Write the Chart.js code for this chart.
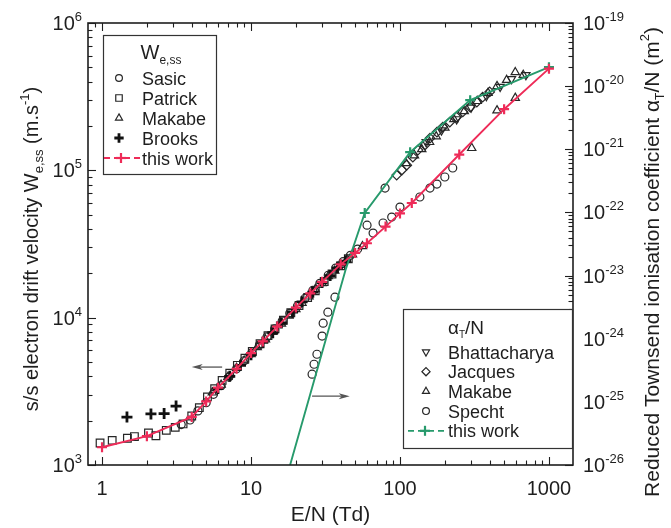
<!DOCTYPE html>
<html>
<head>
<meta charset="utf-8">
<script src="https://cdn.jsdelivr.net/npm/chart.js@4.4.1/dist/chart.umd.min.js"></script>
<style>
  html, body { margin: 0; background: #fff; }
</style>
</head>
<body>
<canvas id="c" width="671" height="528"></canvas>
<script>
// E/N in Td; drift velocity W in m/s (left axis); alpha/N in m^2 (right axis)
const redEN = [1, 2, 4, 5, 6, 8, 10, 12, 15, 20, 25, 30, 40, 50, 60, 80, 100, 120, 250, 500, 1000];
const redW = [1320, 1570, 2120, 2700, 3350, 4500, 5750, 6900, 8700, 11700, 14600, 17500, 23000, 27500, 32000, 41500, 51000, 60000, 128000, 260000, 490000];

const greenEN = [18.3, 43, 58, 117, 296, 1000];
const greenA = [1.0e-26, 1.2e-23, 9.8e-23, 9.0e-22, 6.0e-21, 2.0e-20];

const sasicEN = [3.4, 3.9, 4.4, 5.0, 5.6, 6.3, 7.1, 8.0, 9.0, 10.1, 11.4, 12.8, 14.4, 16.2, 18.2, 20.5, 23, 26, 29, 33, 37, 41.5, 46.5, 52, 66, 77, 88, 100, 136, 159, 177, 200, 226];
const sasicW = [1880, 2020, 2330, 2650, 3020, 3450, 3950, 4500, 5100, 5750, 6550, 7400, 8400, 9500, 10700, 12000, 13500, 15300, 17100, 19400, 21700, 24000, 26500, 29200, 37500, 43900, 48200, 56300, 65900, 75800, 80700, 90100, 103700];

const patEN = [0.97, 1.17, 1.48, 1.65, 2.05, 2.3, 2.7, 3.1, 3.5, 4.0, 4.5, 5.1, 5.7, 6.4, 7.2, 8.1, 9.1, 10.2, 11.5, 13, 14.5, 16.5, 18.5, 21, 24, 27, 31, 35, 40, 45];
const patW = [1410, 1470, 1520, 1560, 1650, 1580, 1720, 1800, 1900, 2150, 2450, 2900, 3300, 3750, 4200, 4750, 5300, 5900, 6650, 7550, 8400, 9600, 10800, 12100, 13700, 15200, 17600, 19800, 22500, 25100];

const makWEN = [5.5, 6.3, 7, 8, 9, 10, 11, 12.5, 14, 16, 18, 20, 22, 24.5, 27, 30, 33, 36.5, 40, 44, 48, 56, 303, 448, 594];
const makW = [3100, 3500, 3950, 4550, 5100, 5650, 6300, 7100, 8000, 9100, 10300, 11400, 12600, 13900, 15600, 17100, 19100, 20800, 22800, 24800, 26800, 30500, 141600, 255000, 310000];

const brooksEN = [1.47, 2.13, 2.61, 3.14, 6, 7.2, 8.5, 10, 12, 14, 16, 19, 22, 26, 30, 34, 38, 43];
const brooksW = [2115, 2220, 2235, 2510, 3300, 4000, 4750, 5600, 6800, 7900, 9200, 10900, 12800, 14900, 17300, 19300, 21800, 24200];

const specEN = [25.7, 26.5, 27.7, 30.0, 30.5, 32.8, 36.6, 60.1, 79.4];
const specA = [2.74e-25, 3.94e-25, 5.68e-25, 1.10e-24, 1.76e-24, 2.63e-24, 4.55e-24, 6.29e-23, 2.43e-22];

const jacEN = [95, 103, 111, 122, 132, 147, 159, 177, 194, 216, 240, 264, 296, 328, 359, 400];
const jacA = [3.9e-22, 4.7e-22, 5.6e-22, 7.5e-22, 9.7e-22, 1.17e-21, 1.5e-21, 1.87e-21, 2.25e-21, 2.7e-21, 3.24e-21, 3.9e-21, 4.67e-21, 5.6e-21, 6.7e-21, 8.1e-21];

const bhaEN = [150, 190, 240, 300, 380, 470, 560, 700];
const bhaA = [1.3e-21, 2.0e-21, 3.0e-21, 4.6e-21, 7.0e-21, 9.8e-21, 1.3e-20, 1.5e-20];

const makAEN = [110, 125, 140, 158, 175, 200, 230, 270, 330, 390, 448, 520, 594, 672];
const makA = [6.0e-22, 8.0e-22, 1.0e-21, 1.3e-21, 1.6e-21, 2.2e-21, 3.0e-21, 4.0e-21, 5.8e-21, 7.8e-21, 1.0e-20, 1.25e-20, 1.66e-20, 1.5e-20];

const xTickLabels = ['1', '10', '100', '1000'];
const legendW = ['Sasic', 'Patrick', 'Makabe', 'Brooks', 'this work'];
const legendA = ['Bhattacharya', 'Jacques', 'Makabe', 'Specht', 'this work'];

const RED = '#ee2b58';
const GREEN = '#279a6c';
const MARK = '#262626';
const INK = '#1e1e1e';
const FONT = "'Liberation Sans', Arial, sans-serif";
const font = sz => sz + 'px ' + FONT;

const pts = (xs, ys) => xs.map((x, i) => ({ x, y: ys[i] }));

const styles = {
  sasic: { pointStyle: 'circle', radius: 4, borderWidth: 1.2, color: MARK },
  patrick: { pointStyle: 'rect', radius: 5.4, borderWidth: 1.2, color: MARK },
  makabe: { pointStyle: 'triangle', radius: 4.8, borderWidth: 1.2, color: MARK },
  brooks: { pointStyle: 'cross', radius: 5.5, borderWidth: 2.8, color: '#111' },
  bha: { pointStyle: 'triangle', radius: 4.8, rotation: 180, borderWidth: 1.2, color: MARK },
  jac: { pointStyle: 'rectRot', radius: 4.8, borderWidth: 1.2, color: MARK },
};

const markerSet = (label, xs, ys, axis, st) => ({
  label,
  data: pts(xs, ys),
  yAxisID: axis,
  showLine: false,
  pointStyle: st.pointStyle,
  pointRadius: st.radius,
  pointRotation: st.rotation || 0,
  pointBackgroundColor: 'rgba(0,0,0,0)',
  pointBorderColor: st.color,
  pointBorderWidth: st.borderWidth,
});

const datasets = [
  {
    label: 'this work W', data: pts(redEN, redW), yAxisID: 'y', showLine: true,
    borderColor: RED, borderWidth: 1.9, pointStyle: 'cross', pointRadius: 5,
    pointBorderColor: RED, pointBorderWidth: 2.2, pointBackgroundColor: RED,
  },
  {
    label: 'this work alpha', data: pts(greenEN, greenA), yAxisID: 'y2', showLine: true,
    borderColor: GREEN, borderWidth: 1.9, pointStyle: 'cross', pointRadius: [0, 0, 5, 5, 5, 5],
    pointBorderColor: GREEN, pointBorderWidth: 2.2, pointBackgroundColor: GREEN,
  },
  markerSet('Brooks', brooksEN, brooksW, 'y', styles.brooks),
  markerSet('Sasic', sasicEN, sasicW, 'y', styles.sasic),
  markerSet('Patrick', patEN, patW, 'y', styles.patrick),
  markerSet('Makabe W', makWEN, makW, 'y', styles.makabe),
  markerSet('Specht', specEN, specA, 'y2', styles.sasic),
  markerSet('Jacques', jacEN, jacA, 'y2', styles.jac),
  markerSet('Bhattacharya', bhaEN, bhaA, 'y2', styles.bha),
  markerSet('Makabe alpha', makAEN, makA, 'y2', styles.makabe),
];

// draws a run of text pieces with their own size and vertical shift (sub/superscripts)
function rich(ctx, segs, x, y, align) {
  let w = 0;
  for (const s of segs) { ctx.font = font(s.size); s.w = ctx.measureText(s.t).width; w += s.w; }
  let cx = align === 'right' ? x - w : align === 'center' ? x - w / 2 : x;
  ctx.textAlign = 'left';
  ctx.textBaseline = 'alphabetic';
  for (const s of segs) {
    ctx.font = font(s.size);
    ctx.fillText(s.t, cx, y + (s.dy || 0));
    cx += s.w;
  }
}

function logTicks(min, max) {
  const out = [];
  for (let e = Math.floor(Math.log10(min)); e <= Math.ceil(Math.log10(max)); e++) {
    for (let m = 1; m < 10; m++) {
      const v = m * Math.pow(10, e);
      if (v >= min * 0.999 && v <= max * 1.001) out.push({ v, e, major: m === 1 });
    }
  }
  return out;
}

function line(ctx, x1, y1, x2, y2) {
  ctx.beginPath();
  ctx.moveTo(x1, y1);
  ctx.lineTo(x2, y2);
  ctx.stroke();
}

function arrow(ctx, x1, x2, y) {
  const dir = Math.sign(x2 - x1);
  ctx.strokeStyle = '#555';
  ctx.fillStyle = '#555';
  ctx.lineWidth = 1.3;
  line(ctx, x1, y, x2 - dir * 4, y);
  ctx.beginPath();
  ctx.moveTo(x2, y);
  ctx.lineTo(x2 - dir * 11, y - 3);
  ctx.lineTo(x2 - dir * 8, y);
  ctx.lineTo(x2 - dir * 11, y + 3);
  ctx.closePath();
  ctx.fill();
}

function legendMarker(ctx, st, x, y) {
  ctx.save();
  ctx.strokeStyle = st.color;
  ctx.fillStyle = 'rgba(0,0,0,0)';
  ctx.lineWidth = st.borderWidth;
  Chart.helpers.drawPoint(ctx, { pointStyle: st.pointStyle, radius: st.radius * 0.85, rotation: st.rotation || 0, borderWidth: st.borderWidth }, x, y);
  ctx.restore();
}

function legendLine(ctx, color, x, y) {
  ctx.save();
  ctx.strokeStyle = color;
  ctx.lineWidth = 1.8;
  ctx.setLineDash([6, 4]);
  line(ctx, x - 17, y, x + 20, y);
  ctx.setLineDash([]);
  ctx.lineWidth = 2.2;
  line(ctx, x - 5, y, x + 5, y);
  line(ctx, x, y - 5, x, y + 5);
  ctx.restore();
}

const deco = {
  id: 'deco',
  afterDatasetsDraw(chart) {
    const ctx = chart.ctx, sx = chart.scales.x, sy = chart.scales.y, sy2 = chart.scales.y2;
    ctx.save();
    arrow(ctx, sx.getPixelForValue(6.4), sx.getPixelForValue(4.0), sy.getPixelForValue(4620));
    arrow(ctx, sx.getPixelForValue(25.7), sx.getPixelForValue(46), sy2.getPixelForValue(1.23e-25));
    ctx.restore();
  },
  afterDraw(chart) {
    const ctx = chart.ctx, a = chart.chartArea;
    const sx = chart.scales.x, sy = chart.scales.y, sy2 = chart.scales.y2;
    ctx.save();
    ctx.strokeStyle = INK;
    ctx.fillStyle = INK;

    // inward ticks on all four sides
    ctx.lineWidth = 1.1;
    for (const t of logTicks(sx.min, sx.max)) {
      const px = Math.round(sx.getPixelForValue(t.v)) + 0.5, len = t.major ? 8 : 4.5;
      line(ctx, px, a.bottom, px, a.bottom - len);
      line(ctx, px, a.top, px, a.top + len);
    }
    for (const t of logTicks(sy.min, sy.max)) {
      const py = Math.round(sy.getPixelForValue(t.v)) + 0.5, len = t.major ? 8 : 4.5;
      line(ctx, a.left, py, a.left + len, py);
    }
    for (const t of logTicks(sy2.min, sy2.max)) {
      const py = Math.round(sy2.getPixelForValue(t.v)) + 0.5, len = t.major ? 8 : 4.5;
      line(ctx, a.right, py, a.right - len, py);
    }
    ctx.lineWidth = 1.6;
    ctx.strokeRect(a.left, a.top, a.right - a.left, a.bottom - a.top);

    // tick labels
    ctx.font = font(20);
    ctx.textAlign = 'center';
    ctx.textBaseline = 'alphabetic';
    xTickLabels.forEach(s => ctx.fillText(s, sx.getPixelForValue(Number(s)), 495));
    for (const t of logTicks(sy.min, sy.max)) {
      if (!t.major) continue;
      rich(ctx, [{ t: '10', size: 20 }, { t: String(t.e), size: 13, dy: -9 }], 82, sy.getPixelForValue(t.v) + 7, 'right');
    }
    for (const t of logTicks(sy2.min, sy2.max)) {
      if (!t.major) continue;
      rich(ctx, [{ t: '10', size: 20 }, { t: String(t.e), size: 13, dy: -9 }], 583, sy2.getPixelForValue(t.v) + 7, 'left');
    }

    // axis titles
    ctx.font = font(21);
    ctx.textAlign = 'center';
    ctx.fillText('E/N (Td)', (a.left + a.right) / 2, 521);

    ctx.save();
    ctx.translate(38, 249);
    ctx.rotate(-Math.PI / 2);
    rich(ctx, [
      { t: 's/s electron drift velocity W', size: 20 },
      { t: 'e,ss', size: 13, dy: 5 },
      { t: ' (m.s', size: 20 },
      { t: '-1', size: 13, dy: -9 },
      { t: ')', size: 20 },
    ], 0, 0, 'center');
    ctx.restore();

    ctx.save();
    ctx.translate(659, 262);
    ctx.rotate(-Math.PI / 2);
    rich(ctx, [
      { t: 'Reduced Townsend ionisation coefficient \u03b1', size: 21 },
      { t: 'T', size: 12, dy: 5 },
      { t: '/N (m', size: 21 },
      { t: '2', size: 13, dy: -10 },
      { t: ')', size: 21 },
    ], 0, 0, 'center');
    ctx.restore();

    // legend for drift velocity
    ctx.fillStyle = '#fff';
    ctx.fillRect(104, 36, 112, 138);
    ctx.strokeStyle = '#333';
    ctx.lineWidth = 1.2;
    ctx.strokeRect(103.5, 35.5, 113, 139);
    ctx.fillStyle = INK;
    rich(ctx, [{ t: 'W', size: 20 }, { t: 'e,ss', size: 12, dy: 5 }], 161, 59, 'center');
    const wStyles = [styles.sasic, styles.patrick, styles.makabe, styles.brooks];
    legendW.forEach((name, i) => {
      const y = 78 + i * 20;
      if (i < 4) legendMarker(ctx, wStyles[i], 119, y);
      else legendLine(ctx, RED, 121, y);
      ctx.fillStyle = INK;
      ctx.font = font(18);
      ctx.textAlign = 'left';
      ctx.fillText(name, 142, y + 6.5);
    });

    // legend for ionisation coefficient
    ctx.fillStyle = '#fff';
    ctx.fillRect(404, 310, 168, 138);
    ctx.strokeStyle = '#333';
    ctx.lineWidth = 1.2;
    ctx.strokeRect(403.5, 309.5, 169, 139);
    ctx.fillStyle = INK;
    rich(ctx, [{ t: '\u03b1', size: 19 }, { t: 'T', size: 10, dy: 4 }, { t: '/N', size: 19 }], 466, 334, 'center');
    const aStyles = [styles.bha, styles.jac, styles.makabe, styles.sasic];
    legendA.forEach((name, i) => {
      const y = 352 + i * 19.7;
      if (i < 4) legendMarker(ctx, aStyles[i], 426, y);
      else legendLine(ctx, GREEN, 425, y);
      ctx.fillStyle = INK;
      ctx.font = font(18);
      ctx.textAlign = 'left';
      ctx.fillText(name, 448, y + 6.5);
    });
    ctx.restore();
  },
};

new Chart(document.getElementById('c'), {
  type: 'scatter',
  data: { datasets },
  options: {
    responsive: false,
    animation: false,
    layout: { padding: { left: 88, right: 98, top: 23, bottom: 63 } },
    plugins: { legend: { display: false }, tooltip: { enabled: false } },
    scales: {
      x: { type: 'logarithmic', min: 0.805, max: 1450, display: false },
      y: { type: 'logarithmic', position: 'left', min: 1e3, max: 1e6, display: false },
      y2: { type: 'logarithmic', position: 'right', min: 1e-26, max: 1e-19, display: false },
    },
  },
  plugins: [deco],
});
</script>
</body>
</html>
